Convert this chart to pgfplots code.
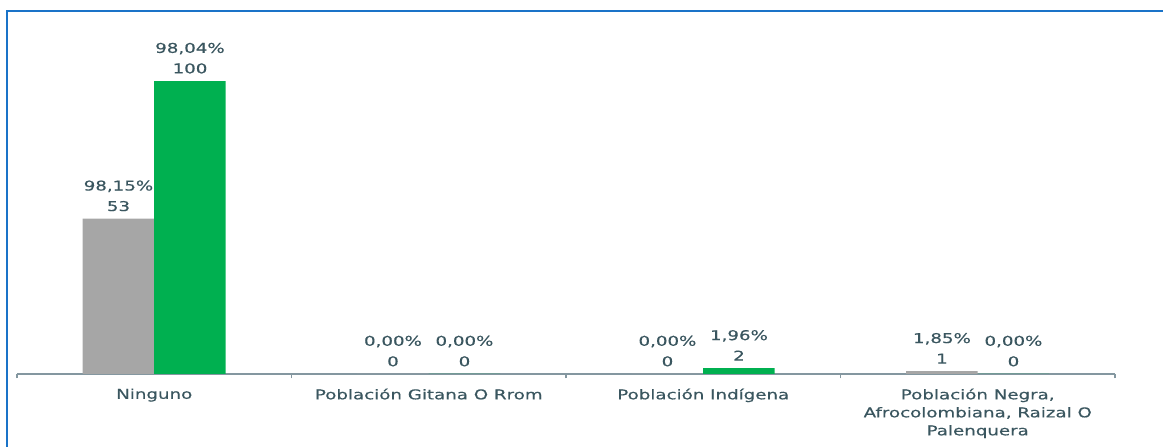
\documentclass[border=0pt]{standalone}
\usepackage{pgfplots}
\pgfplotsset{compat=1.18}
\usepackage{fontspec}
\setmainfont{DejaVu Sans}[FakeStretch=1.35, FakeBold=0.4]
\definecolor{txt}{HTML}{3A565F}
\definecolor{axc}{HTML}{8497A0}
\definecolor{bgray}{HTML}{A6A6A6}
\definecolor{bgreen}{HTML}{00B050}
\definecolor{frame}{HTML}{1A73C8}
\begin{document}
\begin{tikzpicture}[x=1pt,y=1pt]
\path[use as bounding box] (0,0) rectangle (1163,447);
\draw[frame, line width=2pt] (7,-5) -- (7,436) -- (1170,436);
\begin{axis}[
  at={(17pt,73pt)}, anchor=south west,
  scale only axis, width=1098pt, height=348pt,
  xmin=-0.5, xmax=3.5, ymin=0, ymax=118.8,
  axis y line=none, axis x line*=bottom,
  x axis line style={axc, line width=1.2pt},
  ybar=0pt, bar width=71.5pt,
  xtick={0,1,2,3}, major tick length=0pt,
  xticklabels={Ninguno, Población Gitana O Rrom, Población Indígena, {Población Negra,\\Afrocolombiana, Raizal O\\Palenquera}},
  xticklabel style={font=\fontsize{13.5}{18}\selectfont, text=txt, align=center, yshift=-11pt},
  extra x ticks={-0.5,0.5,1.5,2.5,3.5}, extra x tick labels={},
  extra x tick style={major tick length=4.5pt, tick style={axc, line width=1.2pt}},
  point meta=explicit symbolic,
  nodes near coords,
  every node near coord/.append style={font=\fontsize{13.5}{20.5}\selectfont, text=txt, align=center, anchor=south, yshift=4pt},
  clip=false,
]
\addplot[fill=bgray, draw=none] coordinates {(0,53) [98,15\%\\53] (1,0) [0,00\%\\0] (2,0) [0,00\%\\0] (3,1) [1,85\%\\1]};
\addplot[fill=bgreen, draw=none] coordinates {(0,100) [98,04\%\\100] (1,0) [0,00\%\\0] (2,2) [1,96\%\\2] (3,0) [0,00\%\\0]};
\end{axis}
\end{tikzpicture}
\end{document}
